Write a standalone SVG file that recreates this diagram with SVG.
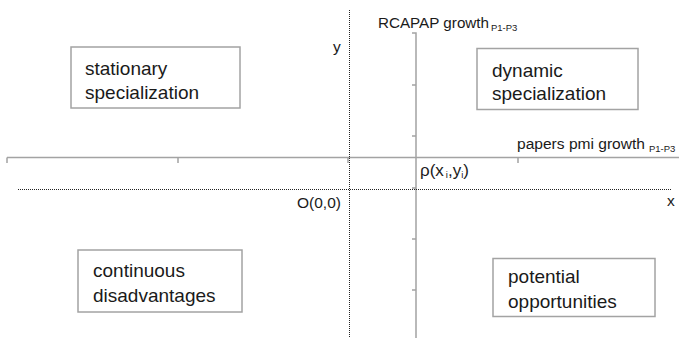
<svg xmlns="http://www.w3.org/2000/svg" width="679" height="338" viewBox="0 0 679 338">
<style>
text{font-family:"Liberation Sans",Arial,sans-serif;fill:#1a1a1a}
.lbl{font-size:15.5px}
.sub{font-size:9.5px}
.big{font-size:19px}
.axis{stroke:#a3a3a3;stroke-width:1.5;fill:none}
.dot{stroke:#222;stroke-width:1;stroke-dasharray:1 1;fill:none}
.box{fill:#fff;stroke:#a3a3a3;stroke-width:1.5}
</style>
<rect width="679" height="338" fill="#fff"/>
<g id="connectors">
<path class="axis" d="M412 33H416V338M7 157.5H679"/>
<path class="axis" d="M412 85H416M412 136H416M412 188H416M412 239H416M412 290H416"/>
<path class="axis" d="M7 157.5V163M178 157.5V163M348 157.5V163M518 157.5V163"/>
<path class="dot" d="M349.5 10V338"/>
<path class="dot" d="M18 189.5H671"/>
</g>
<g id="axis-labels">
<text class="lbl" x="378" y="27.5" textLength="111" lengthAdjust="spacingAndGlyphs">RCAPAP growth</text>
<text class="sub" x="491" y="31">P1-P3</text>
<text class="lbl" x="517" y="148.5" textLength="128" lengthAdjust="spacingAndGlyphs">papers pmi growth</text>
<text class="sub" x="649" y="152">P1-P3</text>
<text class="lbl" x="333" y="52">y</text>
<text class="lbl" x="667" y="206">x</text>
<text class="lbl" x="297" y="207.5">O(0,0)</text>
<text x="420" y="175.5" style="font-size:17px">ρ(x<tspan class="sub" dx="2" dy="2">i</tspan><tspan dy="-2">,y</tspan><tspan class="sub" dy="2">i</tspan><tspan dy="-2">)</tspan></text>
</g>
<g id="stationary">
<rect class="box" x="71" y="47" width="169" height="61"/>
<text class="big" x="85" y="75">stationary</text>
<text class="big" x="85" y="98.5">specialization</text>
</g>
<g id="dynamic">
<rect class="box" x="477" y="48.5" width="161" height="61"/>
<text class="big" x="492" y="77">dynamic</text>
<text class="big" x="492" y="100">specialization</text>
</g>
<g id="continuous">
<rect class="box" x="78" y="250" width="164" height="62"/>
<text class="big" x="93" y="277">continuous</text>
<text class="big" x="93" y="302">disadvantages</text>
</g>
<g id="potential">
<rect class="box" x="493" y="258.5" width="162" height="58"/>
<text class="big" x="508" y="283">potential</text>
<text class="big" x="508" y="307.5">opportunities</text>
</g>
</svg>
